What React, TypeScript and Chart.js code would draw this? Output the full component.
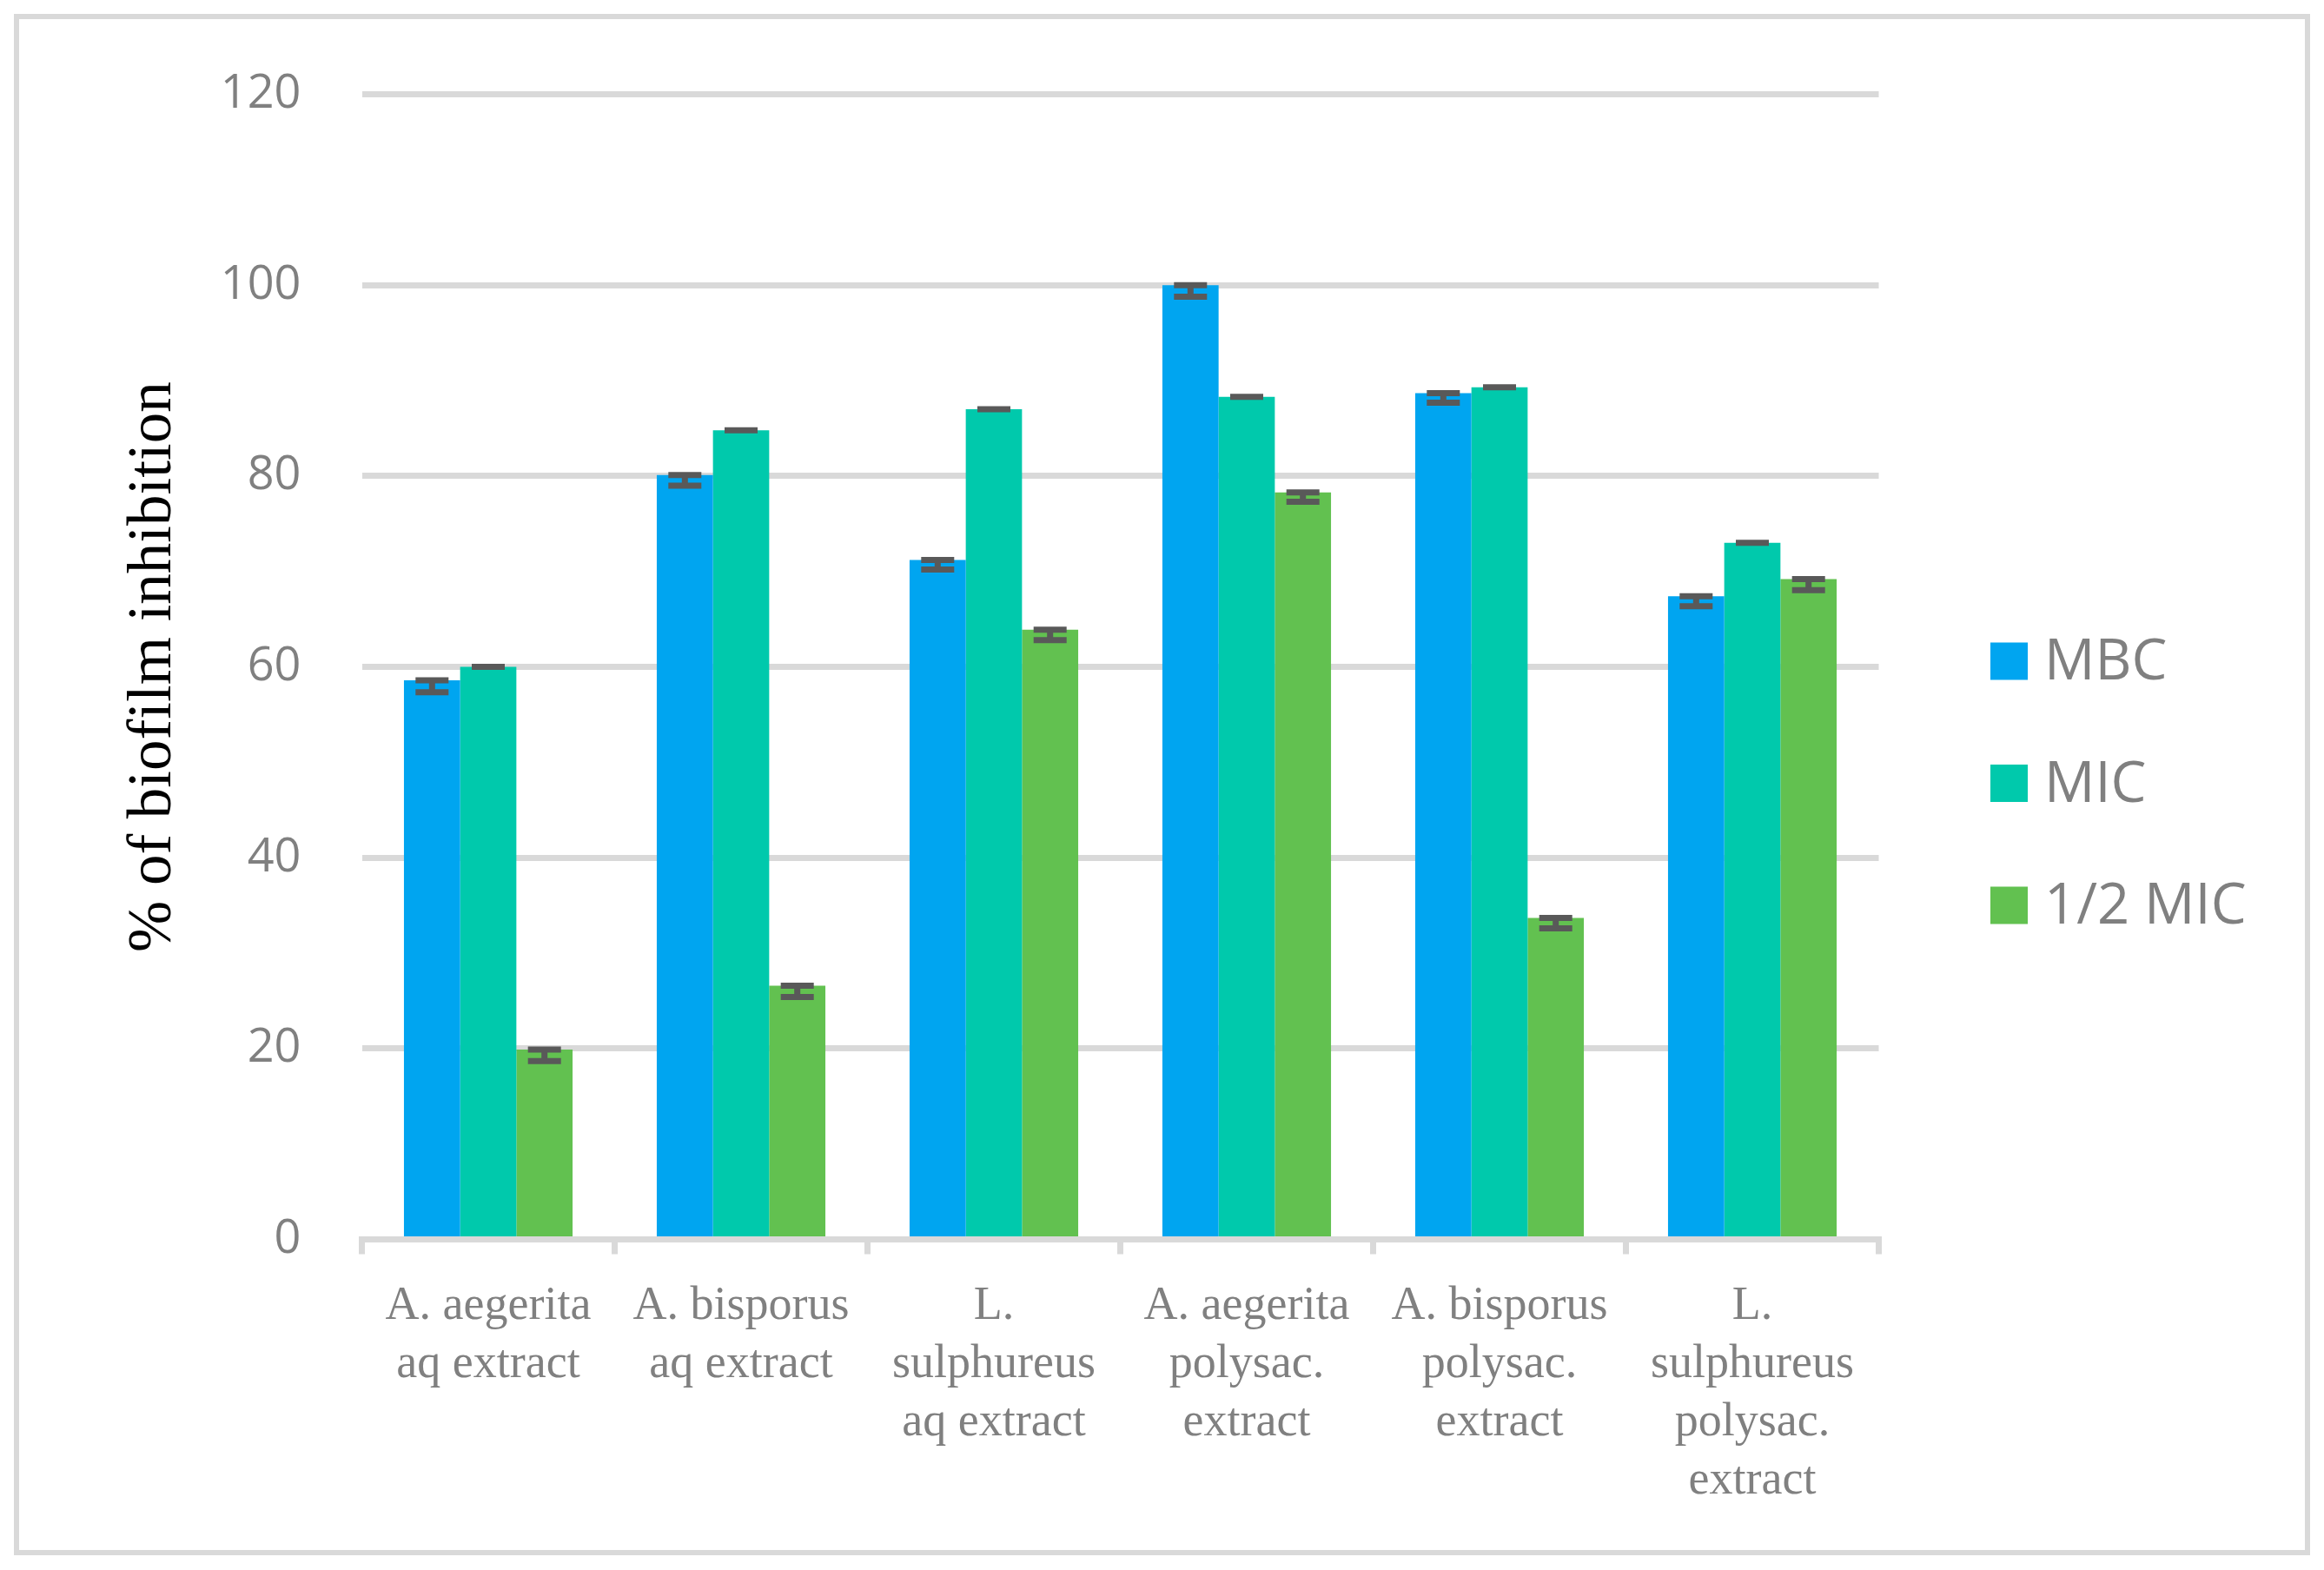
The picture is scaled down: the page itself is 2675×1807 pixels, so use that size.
import React, { useEffect, useRef } from "react";
import { Chart, registerables } from "chart.js";

Chart.register(...registerables);

const categories: string[][] = [
  ["A. aegerita", "aq extract"],
  ["A. bisporus", "aq extract"],
  ["L.", "sulphureus", "aq extract"],
  ["A. aegerita", "polysac.", "extract"],
  ["A. bisporus", "polysac.", "extract"],
  ["L.", "sulphureus", "polysac.", "extract"],
];

const seriesNames = ["MBC", "MIC", "1/2 MIC"];
const mbc = [58.6, 80.1, 71.2, 100.0, 88.7, 67.4];
const mic = [60.0, 84.8, 87.0, 88.3, 89.3, 73.0];
const halfMic = [19.9, 26.6, 63.9, 78.3, 33.7, 69.2];
const mbcErr = [1.25, 1.1, 1.0, 1.2, 1.0, 1.05];
const micErr = [0, 0, 0, 0, 0, 0];
const halfMicErr = [1.2, 1.2, 1.1, 1.0, 1.1, 1.15];

const yTicks = { min: 0, max: 120, step: 20 };
const yTitle = "% of biofilm inhibition";

const colors = ["#00a5f0", "#00c9ac", "#62c150"];
const errors = [mbcErr, micErr, halfMicErr];

export default function App() {
  const ref = useRef<HTMLCanvasElement | null>(null);

  useEffect(() => {
    if (!ref.current) return;

    const bgPlugin = {
      id: "bgBorder",
      beforeDraw(chart: any) {
        const ctx = chart.ctx;
        ctx.save();
        ctx.fillStyle = "#ffffff";
        ctx.fillRect(0, 0, chart.width, chart.height);
        ctx.strokeStyle = "#d9d9d9";
        ctx.lineWidth = 6;
        ctx.strokeRect(19, 19, 2637, 1768);
        ctx.restore();
      },
    };

    const errPlugin = {
      id: "errBars",
      afterDatasetsDraw(chart: any) {
        const ctx = chart.ctx;
        const y = chart.scales.y;
        ctx.save();
        ctx.strokeStyle = "#595959";
        ctx.lineWidth = 7;
        ctx.lineCap = "butt";
        chart.data.datasets.forEach((ds: any, i: number) => {
          const meta = chart.getDatasetMeta(i);
          meta.data.forEach((bar: any, j: number) => {
            const v = ds.data[j];
            const e = errors[i][j];
            const yt = y.getPixelForValue(v);
            const yb = y.getPixelForValue(v - e);
            const x = bar.x;
            const half = 19;
            ctx.beginPath();
            ctx.moveTo(x, yt);
            ctx.lineTo(x, yb);
            ctx.moveTo(x - half, yt);
            ctx.lineTo(x + half, yt);
            ctx.moveTo(x - half, yb);
            ctx.lineTo(x + half, yb);
            ctx.stroke();
          });
        });
        ctx.restore();
      },
    };

    const legendPlugin = {
      id: "customLegend",
      afterDraw(chart: any) {
        const ctx = chart.ctx;
        ctx.save();
        ctx.font = '65px "Open Sans"';
        ctx.textBaseline = "alphabetic";
        ctx.textAlign = "left";
        chart.data.datasets.forEach((ds: any, i: number) => {
          const cy = 761 + i * 140.5;
          ctx.fillStyle = ds.backgroundColor;
          ctx.fillRect(2291, cy - 21.5, 43, 43);
          ctx.fillStyle = "#808080";
          ctx.fillText(ds.label, 2353, cy + 21);
        });
        ctx.restore();
      },
    };

    const chart = new Chart(ref.current, {
      type: "bar",
      data: {
        labels: categories,
        datasets: seriesNames.map((name, i) => ({
          label: name,
          data: [mbc, mic, halfMic][i],
          backgroundColor: colors[i],
          borderWidth: 0,
          categoryPercentage: 0.667,
          barPercentage: 1.0,
        })),
      },
      options: {
        animation: false,
        responsive: false,
        devicePixelRatio: 1,
        layout: { padding: { left: 135, top: 108.7, right: 512.5, bottom: 0 } },
        plugins: {
          legend: { display: false },
          tooltip: { enabled: false },
        },
        scales: {
          x: {
            offset: true,
            grid: {
              display: true,
              offset: true,
              drawOnChartArea: false,
              drawTicks: true,
              tickLength: 17,
              color: "#d9d9d9",
              lineWidth: 7,
            },
            border: { display: true, color: "#d9d9d9", width: 7 },
            ticks: {
              color: "#808080",
              padding: 27,
              maxRotation: 0,
              autoSkip: false,
              font: { family: "Liberation Serif", size: 54, lineHeight: 1.24 },
            },
            afterFit(scale: any) {
              scale.height = 380.5;
            },
          },
          y: {
            min: yTicks.min,
            max: yTicks.max,
            grid: {
              color: "#d9d9d9",
              lineWidth: 7,
              drawTicks: false,
            },
            border: { display: false },
            ticks: {
              stepSize: yTicks.step,
              color: "#808080",
              padding: 70,
              font: { family: "Open Sans", size: 54 },
            },
            title: {
              display: true,
              text: yTitle,
              color: "#000000",
              padding: 0,
              font: { family: "Liberation Serif", size: 71, lineHeight: 1.2 },
            },
            afterFit(scale: any) {
              scale.width = 281.5;
            },
          },
        },
      },
      plugins: [bgPlugin, errPlugin, legendPlugin],
    });

    return () => chart.destroy();
  }, []);

  return (
    <div style={{ position: "absolute", left: 0, top: 0, width: 2675, height: 1807 }}>
      <canvas ref={ref} width={2675} height={1807} style={{ display: "block" }} />
    </div>
  );
}
